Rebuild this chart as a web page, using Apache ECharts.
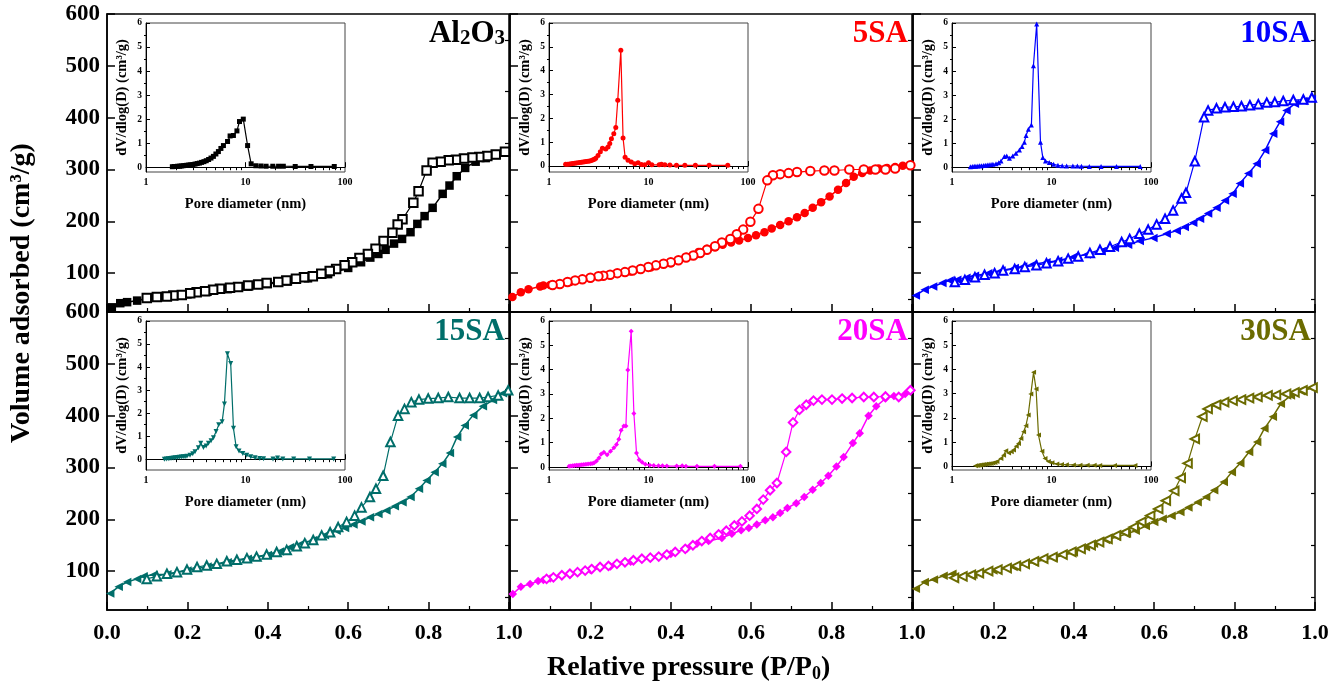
<!DOCTYPE html>
<html>
<head>
<meta charset="utf-8">
<script src="https://cdn.jsdelivr.net/npm/echarts@6/dist/echarts.min.js"></script>
<style>
  html, body { margin: 0; padding: 0; background: #fff; }
  #chart { width: 1340px; height: 690px; }
</style>
</head>
<body>
<div id="chart"></div>
<script>
// isotherms: [P/P0, volume adsorbed]
const al2o3Ads = [[0.012,34],[0.033,42],[0.05,44],[0.075,47],[0.1,51],[0.15,55],[0.2,59],[0.25,64],[0.3,69],[0.35,74],[0.4,79],[0.45,84],[0.5,90],[0.55,98],[0.6,110],[0.632,121],[0.655,130],[0.675,137],[0.693,145],[0.714,157],[0.734,166],[0.755,179],[0.772,195],[0.79,210],[0.81,226],[0.835,253],[0.852,269],[0.87,287],[0.891,303],[0.917,315],[0.942,322],[0.967,328],[0.99,333]];
const al2o3Des = [[0.99,334],[0.967,329],[0.946,326],[0.926,324],[0.909,323],[0.888,321],[0.868,319],[0.85,318],[0.83,315],[0.81,313],[0.795,298],[0.775,258],[0.762,236],[0.735,204],[0.723,194],[0.71,178],[0.688,162],[0.668,147],[0.649,137],[0.628,129],[0.61,121],[0.591,115],[0.57,108],[0.554,104],[0.533,99],[0.512,94],[0.49,92],[0.47,89],[0.446,86],[0.426,83],[0.397,81],[0.376,78],[0.351,76],[0.326,73],[0.306,72],[0.281,70],[0.264,68],[0.244,65],[0.223,63],[0.207,61],[0.186,58],[0.165,57],[0.149,55],[0.124,54],[0.099,52]];

const sa5Ads = [[0.006,54],[0.027,63],[0.046,69],[0.075,74],[0.083,76],[0.1,77],[0.15,83],[0.2,90],[0.25,96],[0.3,103],[0.35,111],[0.4,119],[0.44,131],[0.469,141],[0.49,147],[0.51,150],[0.529,155],[0.55,159],[0.57,163],[0.592,168],[0.612,173],[0.633,179],[0.651,186],[0.672,193],[0.693,200],[0.714,208],[0.733,216],[0.753,226],[0.774,237],[0.795,248],[0.816,261],[0.836,274],[0.855,286],[0.876,293],[0.896,298],[0.917,302],[0.938,303],[0.958,305],[0.977,307],[0.996,308]];
const sa5Des = [[0.996,308],[0.958,302],[0.934,300],[0.909,300],[0.88,300],[0.844,300],[0.807,298],[0.782,298],[0.747,297],[0.714,295],[0.693,293],[0.672,291],[0.654,289],[0.64,279],[0.618,224],[0.598,199],[0.58,184],[0.564,175],[0.548,166],[0.527,159],[0.51,152],[0.49,145],[0.473,139],[0.456,134],[0.438,130],[0.419,125],[0.4,121],[0.382,118],[0.363,115],[0.344,112],[0.325,108],[0.305,105],[0.286,102],[0.267,100],[0.249,97],[0.232,95],[0.22,94],[0.2,91],[0.18,88],[0.162,86],[0.143,83],[0.124,79],[0.106,77]];

const sa10Ads = [[0.007,57],[0.029,68],[0.05,74],[0.073,81],[0.091,86],[0.11,87],[0.133,91],[0.154,95],[0.187,100],[0.22,105],[0.253,110],[0.274,113],[0.299,117],[0.332,121],[0.361,124],[0.398,131],[0.432,136],[0.469,142],[0.502,149],[0.535,155],[0.564,162],[0.598,168],[0.631,176],[0.656,182],[0.676,189],[0.697,197],[0.714,205],[0.734,215],[0.755,226],[0.776,240],[0.795,253],[0.813,273],[0.834,292],[0.855,311],[0.876,337],[0.896,369],[0.913,392],[0.929,414],[0.95,427],[0.971,432],[0.992,436]];
const sa10Des = [[0.992,439],[0.971,435],[0.946,434],[0.921,432],[0.9,430],[0.88,429],[0.859,426],[0.838,424],[0.817,422],[0.797,421],[0.776,420],[0.755,418],[0.734,414],[0.724,401],[0.701,316],[0.679,255],[0.668,244],[0.647,221],[0.627,205],[0.606,194],[0.585,184],[0.563,176],[0.539,166],[0.519,160],[0.49,151],[0.465,145],[0.44,139],[0.411,132],[0.386,128],[0.361,123],[0.332,119],[0.307,115],[0.278,112],[0.253,108],[0.224,105],[0.203,100],[0.178,97],[0.154,92],[0.129,87],[0.104,83]];

const sa15Ads = [[0.008,57],[0.029,70],[0.05,79],[0.075,85],[0.091,90],[0.116,93],[0.15,94],[0.2,101],[0.25,109],[0.3,117],[0.35,124],[0.4,131],[0.43,138],[0.455,146],[0.485,154],[0.513,160],[0.542,169],[0.571,178],[0.592,183],[0.613,190],[0.633,196],[0.654,204],[0.675,210],[0.695,217],[0.716,225],[0.735,233],[0.755,243],[0.776,259],[0.795,275],[0.815,291],[0.834,307],[0.853,328],[0.871,359],[0.89,381],[0.911,401],[0.935,418],[0.96,430],[0.985,443]];
const sa15Des = [[0.998,449],[0.973,439],[0.948,436],[0.927,434],[0.902,434],[0.877,434],[0.849,436],[0.824,434],[0.799,433],[0.776,431],[0.757,426],[0.74,413],[0.724,400],[0.705,349],[0.687,284],[0.669,259],[0.654,243],[0.633,223],[0.616,207],[0.596,195],[0.575,185],[0.555,175],[0.534,169],[0.513,160],[0.492,154],[0.472,148],[0.447,141],[0.422,137],[0.397,132],[0.372,128],[0.348,125],[0.323,122],[0.298,119],[0.273,114],[0.248,111],[0.224,108],[0.199,103],[0.174,98],[0.149,95],[0.124,90],[0.099,85]];

const sa20Ads = [[0.007,56],[0.027,70],[0.05,75],[0.07,81],[0.083,83],[0.1,86],[0.15,94],[0.2,102],[0.25,109],[0.3,118],[0.35,125],[0.4,133],[0.44,143],[0.465,153],[0.494,158],[0.527,164],[0.552,172],[0.575,179],[0.594,183],[0.614,190],[0.635,198],[0.654,204],[0.672,212],[0.69,222],[0.712,231],[0.732,243],[0.753,257],[0.773,270],[0.792,284],[0.812,302],[0.83,320],[0.853,347],[0.87,366],[0.892,400],[0.911,418],[0.934,433],[0.955,438],[0.983,442]];
const sa20Des = [[0.996,449],[0.967,436],[0.934,437],[0.905,436],[0.88,436],[0.851,434],[0.826,433],[0.801,431],[0.776,431],[0.755,429],[0.737,421],[0.72,411],[0.704,387],[0.687,330],[0.664,270],[0.647,256],[0.63,238],[0.614,220],[0.596,207],[0.577,196],[0.558,188],[0.538,178],[0.519,171],[0.498,164],[0.477,158],[0.455,150],[0.436,143],[0.411,137],[0.39,132],[0.37,128],[0.349,126],[0.328,124],[0.307,121],[0.286,117],[0.266,114],[0.245,110],[0.224,108],[0.203,104],[0.187,101],[0.168,98],[0.149,95],[0.129,92],[0.108,88],[0.091,85]];

const sa30Ads = [[0.007,66],[0.029,79],[0.052,84],[0.076,91],[0.098,95],[0.12,90],[0.15,93],[0.2,101],[0.25,108],[0.3,117],[0.35,126],[0.4,136],[0.43,146],[0.45,153],[0.48,160],[0.507,166],[0.532,172],[0.554,178],[0.579,187],[0.6,195],[0.621,201],[0.643,207],[0.665,214],[0.685,223],[0.708,233],[0.729,243],[0.749,256],[0.773,272],[0.793,291],[0.814,308],[0.836,330],[0.856,349],[0.874,375],[0.895,398],[0.915,423],[0.94,439],[0.965,447],[0.994,454]];
const sa30Des = [[0.994,454],[0.969,449],[0.949,445],[0.928,442],[0.903,440],[0.882,439],[0.857,436],[0.836,434],[0.816,431],[0.795,429],[0.774,426],[0.754,421],[0.733,413],[0.72,398],[0.701,355],[0.683,308],[0.666,280],[0.65,255],[0.629,236],[0.61,220],[0.59,207],[0.568,195],[0.549,185],[0.527,175],[0.505,169],[0.484,162],[0.463,156],[0.442,150],[0.417,143],[0.394,137],[0.372,132],[0.347,127],[0.324,124],[0.301,119],[0.278,114],[0.256,110],[0.233,106],[0.21,103],[0.187,100],[0.164,96],[0.144,93],[0.123,90],[0.102,87]];

// pore size distributions: [pore diameter nm, dV/dlog(D)]
const al2o3Psd = [[1.84,0.02],[1.92,0.03],[2.0,0.03],[2.08,0.04],[2.17,0.04],[2.26,0.05],[2.36,0.06],[2.46,0.07],[2.57,0.08],[2.69,0.09],[2.82,0.1],[2.96,0.11],[3.11,0.13],[3.27,0.15],[3.44,0.17],[3.62,0.2],[3.82,0.23],[4.03,0.27],[4.26,0.32],[4.5,0.38],[4.76,0.45],[5.04,0.55],[5.34,0.65],[5.66,0.78],[6.0,0.9],[6.6,1.07],[7.0,1.3],[7.56,1.32],[8.2,1.51],[8.7,1.9],[9.5,2.0],[10.5,0.9],[11.4,0.14],[12.7,0.06],[14.3,0.05],[16.1,0.04],[18.8,0.04],[21.5,0.04],[24,0.04],[31.6,0.03],[45.5,0.03],[78,0.03]];
const sa5Psd = [[1.47,0.07],[1.54,0.08],[1.61,0.09],[1.68,0.1],[1.74,0.11],[1.81,0.12],[1.88,0.13],[1.96,0.14],[2.04,0.15],[2.12,0.16],[2.2,0.17],[2.29,0.18],[2.37,0.19],[2.47,0.2],[2.57,0.21],[2.67,0.23],[2.77,0.26],[2.86,0.29],[2.95,0.33],[3.11,0.44],[3.28,0.6],[3.44,0.75],[3.72,0.72],[3.92,0.8],[4.08,0.95],[4.24,1.14],[4.48,1.35],[4.69,1.62],[4.91,2.76],[5.27,4.86],[5.55,1.18],[5.82,0.37],[6.23,0.24],[6.72,0.17],[7.27,0.1],[7.86,0.14],[8.5,0.06],[9.2,0.05],[10,0.14],[10.8,0.05],[12.8,0.05],[13.5,0.08],[14.6,0.05],[16.4,0.04],[19.1,0.03],[23.2,0.03],[29.6,0.03],[40.7,0.03],[62.6,0.03]];
const sa10Psd = [[1.53,0.02],[1.6,0.03],[1.67,0.04],[1.74,0.04],[1.82,0.05],[1.9,0.06],[1.98,0.06],[2.07,0.07],[2.16,0.08],[2.26,0.09],[2.36,0.1],[2.47,0.11],[2.58,0.12],[2.77,0.14],[2.95,0.19],[3.11,0.26],[3.36,0.44],[3.55,0.47],[3.78,0.37],[4.08,0.47],[4.4,0.58],[4.76,0.72],[5.06,0.86],[5.34,1.04],[5.55,1.32],[5.86,1.58],[6.28,1.76],[6.58,4.22],[7.1,5.96],[7.75,1.04],[8.18,0.4],[8.7,0.26],[9.5,0.2],[10.5,0.12],[11.6,0.08],[12.8,0.06],[14.2,0.05],[16.4,0.05],[18.2,0.05],[20,0.04],[24,0.03],[31.5,0.03],[45,0.03],[78,0.03]];
const sa15Psd = [[1.53,0],[1.6,0.01],[1.67,0.02],[1.74,0.03],[1.82,0.04],[1.9,0.05],[1.98,0.06],[2.07,0.07],[2.16,0.08],[2.26,0.09],[2.36,0.1],[2.47,0.11],[2.58,0.13],[2.77,0.17],[2.95,0.24],[3.11,0.32],[3.36,0.5],[3.55,0.69],[3.78,0.51],[4.02,0.57],[4.24,0.69],[4.51,0.8],[4.76,0.93],[5.06,1.2],[5.38,1.49],[5.82,1.62],[6.14,2.4],[6.58,4.58],[7.1,4.15],[7.57,1.34],[8.05,0.54],[8.6,0.35],[9.4,0.25],[10.3,0.17],[11.3,0.1],[12.5,0.06],[13.9,0.03],[15.2,0.02],[18.9,0.01],[21,0.05],[23.7,0.01],[30.5,0.01],[44,0.01],[77,0.01]];
const sa20Psd = [[1.59,0.03],[1.66,0.04],[1.73,0.05],[1.8,0.06],[1.88,0.07],[1.96,0.08],[2.05,0.09],[2.14,0.1],[2.24,0.11],[2.35,0.12],[2.47,0.13],[2.6,0.14],[2.71,0.15],[2.83,0.17],[3.0,0.25],[3.18,0.37],[3.35,0.54],[3.56,0.61],[3.84,0.51],[4.15,0.65],[4.49,0.79],[4.77,0.93],[5.03,1.14],[5.31,1.51],[5.65,1.69],[5.93,1.69],[6.2,3.99],[6.7,5.58],[7.13,2.2],[7.58,0.58],[8.06,0.3],[8.63,0.2],[9.3,0.12],[10.3,0.08],[11.3,0.06],[12.6,0.05],[13.8,0.05],[15.3,0.04],[19.2,0.04],[21.8,0.05],[23.8,0.03],[30.7,0.03],[46,0.03],[84,0.03]];
const sa30Psd = [[1.72,0.03],[1.79,0.04],[1.86,0.05],[1.93,0.06],[2.0,0.07],[2.08,0.08],[2.17,0.09],[2.26,0.1],[2.36,0.11],[2.47,0.12],[2.58,0.14],[2.7,0.16],[2.83,0.2],[3.1,0.32],[3.3,0.46],[3.47,0.64],[3.7,0.55],[3.94,0.6],[4.15,0.68],[4.42,0.83],[4.66,0.94],[4.92,1.15],[5.24,1.43],[5.53,1.68],[5.83,2.12],[6.2,2.99],[6.6,3.88],[7.0,3.19],[7.4,1.29],[8.0,0.62],[8.6,0.32],[9.3,0.2],[10.1,0.15],[11.3,0.1],[12.6,0.08],[14.1,0.07],[16.6,0.06],[19.3,0.05],[22.8,0.05],[26.8,0.05],[30.5,0.04],[43,0.04],[69,0.04]];

const sampleNames = ['Al2O3', '5SA', '10SA', '15SA', '20SA', '30SA'];
const colors = ['#000000', '#ff0000', '#0000ff', '#006e6a', '#ff00ff', '#6b6b00'];

const yMajorTicks = [100, 200, 300, 400, 500, 600];
const yMinorTicks = [50, 150, 250, 350, 450, 550];
const psdMajorTicks = [0, 1, 2, 3, 4, 5, 6];
const psdMinorTicks = [0.5, 1.5, 2.5, 3.5, 4.5, 5.5];
const poreMinorTicks = [2, 3, 4, 5, 6, 7, 8, 9, 20, 30, 40, 50, 60, 70, 80, 90];

const FONT = "'Liberation Serif', 'Times New Roman', serif";

const panels = [
  { ads: al2o3Ads, des: al2o3Des, psd: al2o3Psd, adsSym: 'rect', desSym: 'emptyRect', adsRot: 0, desRot: 0, psdSym: 'rect', psdRot: 0, psdMin: -0.2 },
  { ads: sa5Ads, des: sa5Des, psd: sa5Psd, adsSym: 'circle', desSym: 'emptyCircle', adsRot: 0, desRot: 0, psdSym: 'circle', psdRot: 0, psdMin: -0.25 },
  { ads: sa10Ads, des: sa10Des, psd: sa10Psd, adsSym: 'triangle', desSym: 'emptyTriangle', adsRot: 90, desRot: 0, psdSym: 'triangle', psdRot: 0, psdMin: -0.2 },
  { ads: sa15Ads, des: sa15Des, psd: sa15Psd, adsSym: 'triangle', desSym: 'emptyTriangle', adsRot: 90, desRot: 0, psdSym: 'triangle', psdRot: 180, psdMin: -0.47 },
  { ads: sa20Ads, des: sa20Des, psd: sa20Psd, adsSym: 'diamond', desSym: 'emptyDiamond', adsRot: 0, desRot: 0, psdSym: 'diamond', psdRot: 0, psdMin: -0.12 },
  { ads: sa30Ads, des: sa30Des, psd: sa30Psd, adsSym: 'triangle', desSym: 'emptyTriangle', adsRot: 90, desRot: 90, psdSym: 'triangle', psdRot: 90, psdMin: -0.15 }
];

const colLeft = [107, 510, 913];
const rowTop = [14, 312];
const panelW = 402;
const panelH = 298;

const chart = echarts.init(document.getElementById('chart'));

const grid = [];
const xAxis = [];
const yAxis = [];
const series = [];
const graphic = [];

panels.forEach((p, i) => {
  const col = i % 3;
  const row = Math.floor(i / 3);
  grid.push({ left: colLeft[col], top: rowTop[row], width: panelW, height: panelH, show: true, borderColor: '#000', borderWidth: 1.5, backgroundColor: 'transparent' });
});
panels.forEach((p, i) => {
  const col = i % 3;
  const row = Math.floor(i / 3);
  grid.push({ left: colLeft[col] + 39, top: rowTop[row] + 9, width: 199, height: 149, show: true, borderColor: '#444', borderWidth: 1, backgroundColor: 'transparent' });
});

// main x axes 0..5
panels.forEach((p, i) => {
  const row = Math.floor(i / 3);
  const col = i % 3;
  xAxis.push({
    type: 'value', gridIndex: i, min: 0, max: 1, interval: 0.2,
    axisLine: { lineStyle: { color: '#000', width: 1.5 } },
    axisTick: { inside: true, length: 8, lineStyle: { color: '#000', width: 1.5 } },
    minorTick: { show: true, splitNumber: 2, length: 4, lineStyle: { color: '#000', width: 1.2 } },
    splitLine: { show: false },
    axisLabel: {
      show: row === 1, showMinLabel: col === 0, margin: 12,
      formatter: v => v.toFixed(1),
      fontFamily: FONT, fontWeight: 'bold', fontSize: 22, color: '#000'
    }
  });
});
// inset x axes 6..11 (log10 of pore diameter)
panels.forEach((p, i) => {
  xAxis.push({
    type: 'value', gridIndex: 6 + i, min: 0, max: 2, interval: 1,
    name: 'Pore diameter (nm)', nameLocation: 'middle', nameGap: 25,
    nameTextStyle: { fontFamily: FONT, fontWeight: 'bold', fontSize: 14.5, color: '#000' },
    axisLine: { lineStyle: { color: '#000', width: 1 } },
    axisTick: { inside: true, length: 5, lineStyle: { color: '#000' } },
    splitLine: { show: false },
    axisLabel: { margin: 5, formatter: v => String(Math.round(Math.pow(10, v))), fontFamily: FONT, fontWeight: 'bold', fontSize: 10, color: '#000' }
  });
});
// inset x minor tick axes 12..17
panels.forEach((p, i) => {
  xAxis.push({
    type: 'value', gridIndex: 6 + i, min: 0, max: 2,
    axisLine: { show: false },
    axisTick: { inside: true, length: 3, customValues: poreMinorTicks.map(d => Math.log10(d)), lineStyle: { color: '#000' } },
    axisLabel: { show: false },
    splitLine: { show: false }
  });
});

// main y axes 0..5
panels.forEach((p, i) => {
  const col = i % 3;
  yAxis.push({
    type: 'value', gridIndex: i, min: 25, max: 600,
    axisLine: { show: true, lineStyle: { color: '#000', width: 1.5 } },
    axisTick: { show: true, inside: true, length: 8, customValues: yMajorTicks, lineStyle: { color: '#000', width: 1.5 } },
    splitLine: { show: false },
    axisLabel: { show: col === 0, customValues: yMajorTicks, margin: 7, fontFamily: FONT, fontWeight: 'bold', fontSize: 23, color: '#000' }
  });
});
// main y minor tick axes 6..11
panels.forEach((p, i) => {
  yAxis.push({
    type: 'value', gridIndex: i, min: 25, max: 600,
    axisLine: { show: false },
    axisTick: { show: true, inside: true, length: 4, customValues: yMinorTicks, lineStyle: { color: '#000', width: 1.2 } },
    axisLabel: { show: false },
    splitLine: { show: false }
  });
});
// inset y axes 12..17
panels.forEach((p, i) => {
  yAxis.push({
    type: 'value', gridIndex: 6 + i, min: p.psdMin, max: 6,
    name: 'dV/dlog(D) (cm³/g)', nameLocation: 'middle', nameGap: 16,
    nameTextStyle: { fontFamily: FONT, fontWeight: 'bold', fontSize: 14.5, color: '#000' },
    axisLine: { show: true, lineStyle: { color: '#000', width: 1 } },
    axisTick: { show: true, inside: true, length: 4, customValues: psdMajorTicks, lineStyle: { color: '#000' } },
    splitLine: { show: false },
    axisLabel: { customValues: psdMajorTicks, margin: 4, fontFamily: FONT, fontWeight: 'bold', fontSize: 9.5, color: '#000' }
  });
});
// inset y minor tick axes 18..23
panels.forEach((p, i) => {
  yAxis.push({
    type: 'value', gridIndex: 6 + i, min: p.psdMin, max: 6,
    axisLine: { show: false },
    axisTick: { show: true, inside: true, length: 2, customValues: psdMinorTicks, lineStyle: { color: '#000' } },
    axisLabel: { show: false },
    splitLine: { show: false }
  });
});

panels.forEach((p, i) => {
  const c = colors[i];
  series.push({
    type: 'line', xAxisIndex: i, yAxisIndex: i, data: p.ads,
    symbol: p.adsSym, symbolRotate: p.adsRot, symbolSize: 8.5,
    lineStyle: { color: c, width: 1.5 }, itemStyle: { color: c },
    animation: false, z: 3
  });
  series.push({
    type: 'line', xAxisIndex: i, yAxisIndex: i, data: p.des,
    symbol: p.desSym, symbolRotate: p.desRot, symbolSize: 8.5,
    lineStyle: { color: c, width: 1.2 }, itemStyle: { color: c, borderWidth: 1 },
    animation: false, z: 4
  });
  series.push({
    type: 'line', xAxisIndex: 6 + i, yAxisIndex: 12 + i,
    data: p.psd.map(d => [Math.log10(d[0]), d[1]]),
    symbol: p.psdSym, symbolRotate: p.psdRot, symbolSize: 5,
    lineStyle: { color: c, width: 1.2 }, itemStyle: { color: c },
    animation: false, z: 3
  });
});

// sample labels, top-right of each panel
panels.forEach((p, i) => {
  const col = i % 3;
  const row = Math.floor(i / 3);
  const isAl = i === 0;
  graphic.push({
    type: 'text',
    right: 1340 - (colLeft[col] + panelW) + 4,
    top: rowTop[row] + 4,
    style: {
      text: isAl ? '{b|Al}{s|2}{b|O}{s|3}' : '{b|' + sampleNames[i] + '}',
      fill: colors[i],
      rich: {
        b: { fontFamily: FONT, fontWeight: 'bold', fontSize: 31, lineHeight: 32, fill: colors[i] },
        s: { fontFamily: FONT, fontWeight: 'bold', fontSize: 21, lineHeight: 22, verticalAlign: 'bottom', fill: colors[i] }
      }
    }
  });
});

graphic.push({
  type: 'text', x: 22, y: 293, rotation: Math.PI / 2,
  style: {
    text: 'Volume adsorbed (cm³/g)', fill: '#000', align: 'center', verticalAlign: 'middle',
    font: 'bold 28px ' + FONT
  }
});
graphic.push({
  type: 'text', left: 547, top: 654,
  style: {
    text: '{a|Relative pressure (P/P}{s|0}{a|)}',
    rich: {
      a: { fontFamily: FONT, fontWeight: 'bold', fontSize: 28, lineHeight: 30, fill: '#000' },
      s: { fontFamily: FONT, fontWeight: 'bold', fontSize: 18, lineHeight: 14, verticalAlign: 'bottom', fill: '#000' }
    }
  }
});

chart.setOption({
  animation: false,
  backgroundColor: '#fff',
  grid: grid,
  xAxis: xAxis,
  yAxis: yAxis,
  series: series,
  graphic: graphic
});
</script>
</body>
</html>
